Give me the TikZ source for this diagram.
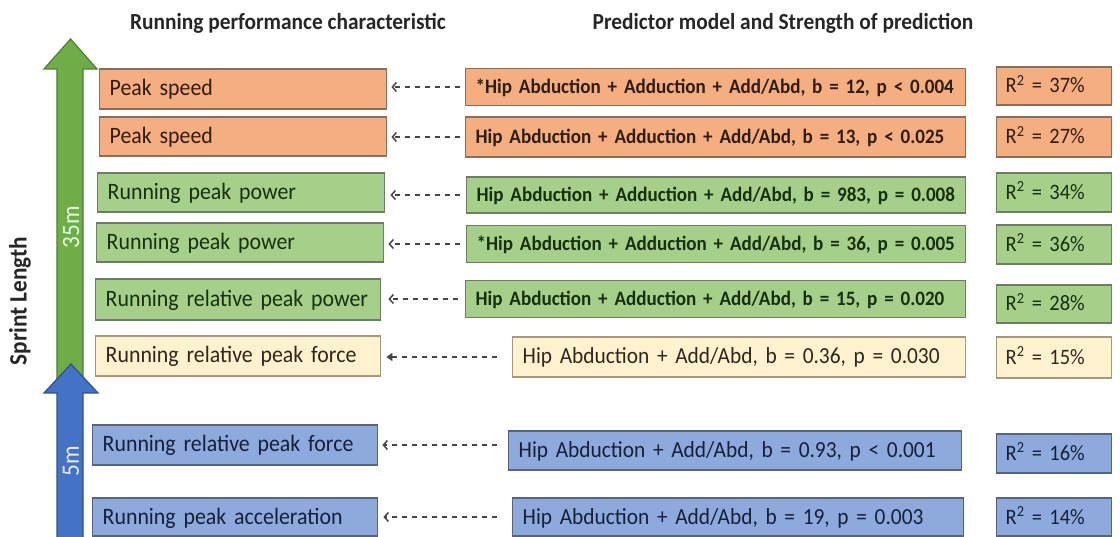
\documentclass[tikz,border=0pt]{standalone}
\usepackage{fontspec}
\setmainfont{Carlito}[FakeStretch=0.93]
\usetikzlibrary{arrows.meta}
\definecolor{orfill}{HTML}{F4AE80}
\definecolor{ordraw}{HTML}{8A6E5C}
\definecolor{grfill}{HTML}{A6D08A}
\definecolor{grdraw}{HTML}{6B7F60}
\definecolor{yefill}{HTML}{FFF2CF}
\definecolor{yedraw}{HTML}{A8977A}
\definecolor{blfill}{HTML}{8EA9DB}
\definecolor{bldraw}{HTML}{56647E}
\definecolor{garrow}{HTML}{70AD47}
\definecolor{garrowd}{HTML}{4E7F30}
\definecolor{barrow}{HTML}{4472C4}
\definecolor{barrowd}{HTML}{2F528F}
\definecolor{dashc}{HTML}{454545}
\definecolor{ortext}{HTML}{2E1E12}
\definecolor{grtext}{HTML}{16300D}
\definecolor{yetext}{HTML}{2E271A}
\definecolor{bltext}{HTML}{15203C}
\begin{document}
\begin{tikzpicture}[x=1pt,y=-1pt,
  box/.style={draw, line width=1.4pt, anchor=west, align=left, inner xsep=10pt, inner ysep=0pt, text height=15pt, text depth=1pt},
  orb/.style={box, fill=orfill, draw=ordraw, text=ortext},
  grb/.style={box, fill=grfill, draw=grdraw, text=grtext},
  yeb/.style={box, fill=yefill, draw=yedraw, text=yetext},
  blb/.style={box, fill=blfill, draw=bldraw, text=bltext},
  lab/.style={font=\fontsize{23.5}{26}\selectfont},
  predb/.style={font=\bfseries\fontsize{20.5}{24}\selectfont},
  predr/.style={font=\fontsize{23}{26}\selectfont},
  rsq/.style={font=\fontsize{22}{26}\selectfont, text width=97pt, inner xsep=9pt},
  head/.style={font=\bfseries\fontsize{23}{26}\selectfont, text=black!85},
  link/.style={draw=dashc, line width=1.5pt, dash pattern=on 5.5pt off 4.5pt, -{Straight Barb[length=4pt,width=9pt,line width=1.5pt]}},
  linkf/.style={draw=dashc, line width=1.5pt, dash pattern=on 5.5pt off 4.5pt, -{Triangle[length=6pt,width=8pt]}},
  bigarrowg/.style={fill=garrow, draw=garrowd, line width=1.2pt, line join=miter},
  bigarrowb/.style={fill=barrow, draw=barrowd, line width=1.2pt, line join=miter},
]
\useasboundingbox (0,0) rectangle (1120,537);
\fill[white] (0,0) rectangle (1120,537);

% headers
\node[head] (h1) at (288,23) {Running performance characteristic};
\node[head] (h2) at (783,23) {Predictor model and Strength of prediction};

% big arrows
\path[bigarrowg] (57,388) -- (57,69) -- (44,69) -- (70.5,39) -- (97,69) -- (83,69) -- (83,388) -- cycle;
\path[bigarrowb] (57,540) -- (57,393) -- (44,393) -- (71,364) -- (98,393) -- (83,393) -- (83,540) -- cycle;
\node[rotate=90, text=green!12!white, font=\fontsize{25}{28}\selectfont] (m35) at (71,227) {35m};
\node[rotate=90, text=blue!8!white, font=\fontsize{25}{28}\selectfont] (m5) at (71,461) {5m};
\node[rotate=90, font=\bfseries\fontsize{25}{28}\selectfont, text=black!85] (sl) at (20,301) {Sprint Length};

% left boxes
\node[orb, lab, minimum height=40pt, text width=267pt] (l1) at (99,89) {Peak speed};
\node[orb, lab, minimum height=39pt, text width=267pt] (l2) at (99,136.5) {Peak speed};
\node[grb, lab, minimum height=39pt, text width=267pt] (l3) at (97,192.5) {Running peak power};
\node[grb, lab, minimum height=39pt, text width=267pt] (l4) at (96,242.5) {Running peak power};
\node[grb, lab, minimum height=41pt, text width=265pt] (l5) at (95,299.5) {Running relative peak power};
\node[yeb, lab, minimum height=40pt, text width=265pt] (l6) at (95,356) {Running relative peak force};
\node[blb, lab, minimum height=40pt, text width=265pt] (l7) at (92,445) {Running relative peak force};
\node[blb, lab, minimum height=38pt, text width=265pt] (l8) at (92,517) {Running peak acceleration};

% predictor boxes
\node[orb, predb, minimum height=37pt, text width=480pt] (p1) at (465,87) {*Hip Abduction + Adduction + Add/Abd, b = 12, p < 0.004};
\node[orb, predb, minimum height=40pt, text width=480pt] (p2) at (465,137) {Hip Abduction + Adduction + Add/Abd, b = 13, p < 0.025};
\node[grb, predb, minimum height=36pt, text width=479pt] (p3) at (466,195) {Hip Abduction + Adduction + Add/Abd, b = 983, p = 0.008};
\node[grb, predb, minimum height=37pt, text width=479pt] (p4) at (466,244) {*Hip Abduction + Adduction + Add/Abd, b = 36, p = 0.005};
\node[grb, predb, minimum height=37pt, text width=480pt] (p5) at (465,299) {Hip Abduction + Adduction + Add/Abd, b = 15, p = 0.020};
\node[yeb, predr, minimum height=40pt, text width=433pt] (p6) at (512,357) {Hip Abduction + Add/Abd, b = 0.36, p = 0.030};
\node[blb, predr, minimum height=39pt, text width=433pt] (p7) at (508,450.5) {Hip Abduction + Add/Abd, b = 0.93, p < 0.001};
\node[blb, predr, minimum height=38pt, text width=431pt] (p8) at (512,517) {Hip Abduction + Add/Abd, b = 19, p = 0.003};

% R squared boxes
\node[orb, rsq, minimum height=38pt] (r1) at (996,86) {R\textsuperscript{2} = 37\%};
\node[orb, rsq, minimum height=40pt] (r2) at (996,137) {R\textsuperscript{2} = 27\%};
\node[grb, rsq, minimum height=39pt] (r3) at (996,192.5) {R\textsuperscript{2} = 34\%};
\node[grb, rsq, minimum height=39pt] (r4) at (996,244.5) {R\textsuperscript{2} = 36\%};
\node[grb, rsq, minimum height=38pt] (r5) at (996,304) {R\textsuperscript{2} = 28\%};
\node[yeb, rsq, minimum height=41pt] (r6) at (996,357.5) {R\textsuperscript{2} = 15\%};
\node[blb, rsq, minimum height=39pt] (r7) at (996,453.5) {R\textsuperscript{2} = 16\%};
\node[blb, rsq, minimum height=38pt] (r8) at (996,517) {R\textsuperscript{2} = 14\%};

% connectors
\draw[link, shorten <=5pt, shorten >=4pt] (p1.west) -- (p1.west -| l1.east);
\draw[link, shorten <=5pt, shorten >=4pt] (p2.west) -- (p2.west -| l2.east);
\draw[link, shorten <=6pt, shorten >=5pt] (p3.west) -- (p3.west -| l3.east);
\draw[link, shorten <=6pt, shorten >=4pt] (p4.west) -- (p4.west -| l4.east);
\draw[link, shorten <=7pt, shorten >=7pt] (p5.west) -- (p5.west -| l5.east);
\draw[linkf, shorten <=15pt, shorten >=5pt] (p6.west) -- (p6.west -| l6.east);
\draw[link, shorten <=11pt, shorten >=4pt] (p7.west |- l7.east) -- (l7.east);
\draw[link, shorten <=15pt, shorten >=5pt] (p8.west) -- (p8.west -| l8.east);
\end{tikzpicture}
\end{document}
